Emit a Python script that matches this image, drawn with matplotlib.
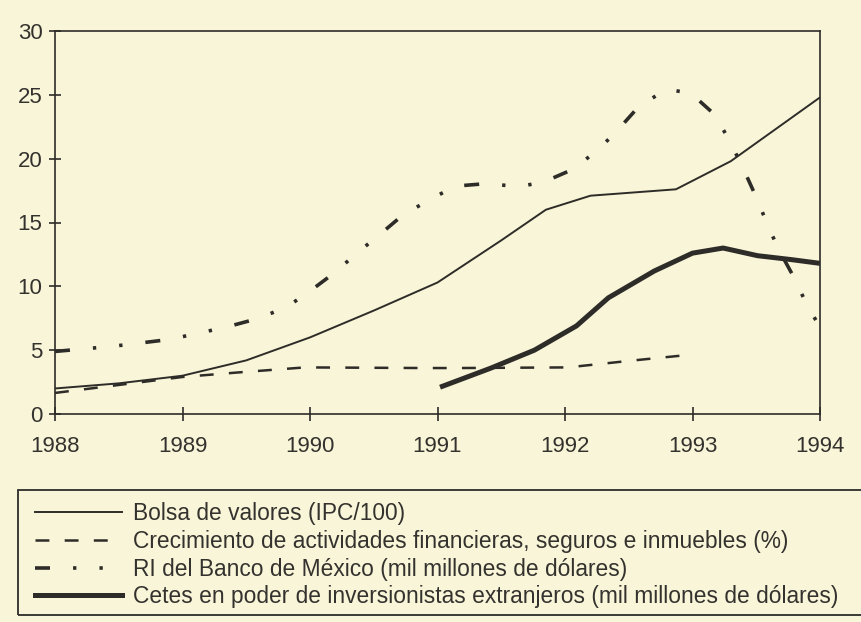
import matplotlib
matplotlib.use('Agg')
import matplotlib.pyplot as plt
from matplotlib.lines import Line2D
from matplotlib.patches import Rectangle

plt.rcParams['font.family'] = ['Liberation Sans', 'DejaVu Sans']
plt.rcParams['lines.scale_dashes'] = False

PAPER = '#f9f5d8'
INK = '#2e2c28'

# data
years = [1988, 1989, 1990, 1991, 1992, 1993, 1994]
y_ticks = [0, 5, 10, 15, 20, 25, 30]

bolsa_x = [1988, 1988.5, 1989, 1989.5, 1990, 1990.5, 1991, 1991.5, 1991.85, 1992.2, 1992.87, 1993.3, 1993.72, 1994]
bolsa_y = [2.0, 2.4, 3.0, 4.2, 6.0, 8.1, 10.3, 13.6, 16.0, 17.1, 17.6, 19.8, 22.8, 24.8]

crec_x = [1988, 1989, 1989.43, 1989.96, 1990.9, 1991.16, 1992.02, 1992.54, 1992.99]
crec_y = [1.65, 2.9, 3.25, 3.65, 3.6, 3.6, 3.65, 4.2, 4.65]

ri_x = [1988, 1988.45, 1988.9, 1989.34, 1989.6, 1989.82, 1989.99, 1990.19, 1990.38, 1990.54,
        1990.73, 1990.96, 1991.14, 1991.39, 1991.64, 1991.84, 1992.07, 1992.27, 1992.41, 1992.58,
        1992.8, 1992.99, 1993.18, 1993.3, 1993.39, 1993.49, 1993.59, 1993.67, 1993.79, 1993.9, 1994]
ri_y = [4.9, 5.3, 5.84, 6.8, 7.5, 8.4, 9.55, 11.05, 12.7, 14.0,
        15.6, 16.9, 17.85, 18.05, 17.8, 18.2, 19.2, 20.8, 22.2, 24.1,
        25.45, 25.1, 23.4, 21.2, 19.4, 17.2, 14.8, 13.0, 10.8, 8.5, 6.8]

cetes_x = [1991.02, 1991.42, 1991.76, 1992.09, 1992.34, 1992.7, 1993.0, 1993.24, 1993.51, 1993.77, 1994]
cetes_y = [2.1, 3.6, 5.0, 6.9, 9.1, 11.2, 12.6, 13.0, 12.4, 12.1, 11.8]

labels = [
    'Bolsa de valores (IPC/100)',
    'Crecimiento de actividades financieras, seguros e inmuebles (%)',
    'RI del Banco de México (mil millones de dólares)',
    'Cetes en poder de inversionistas extranjeros (mil millones de dólares)',
]

styles = [
    dict(lw=1.4, linestyle='-'),
    dict(lw=1.8, dashes=(10, 11)),
    dict(lw=2.6, dashes=(10.8, 16.6, 2.4, 16.6, 2.4, 16.6)),
    dict(lw=3.6, linestyle='-'),
]

W, H = 861, 622
fig = plt.figure(figsize=(W / 100, H / 100), dpi=100, facecolor=PAPER)
ax = fig.add_axes([55 / W, 1 - 414 / H, (820 - 55) / W, (414 - 31) / H])
ax.set_facecolor(PAPER)

series = [(bolsa_x, bolsa_y), (crec_x, crec_y), (ri_x, ri_y), (cetes_x, cetes_y)]
for (xs, ys), st in zip(series, styles):
    ax.plot(xs, ys, color=INK, dash_capstyle='butt', solid_capstyle='butt', clip_on=False, **st)

ax.set_xlim(1988, 1994)
ax.set_ylim(0, 30)
ax.set_xticks(years)
ax.set_xticklabels([str(y) for y in years])
ax.set_yticks(y_ticks)
for s in ax.spines.values():
    s.set_linewidth(1.2)
    s.set_color(INK)
ax.tick_params(axis='x', direction='inout', length=10, width=1.2, pad=11, labelsize=16,
               color=INK, labelcolor='#34322e')
ax.tick_params(axis='y', direction='inout', length=8, width=1.2, pad=5, labelsize=16,
               color=INK, labelcolor='#34322e')

# legend box runs off the right edge like the scan
fig.patches.append(Rectangle((18 / W, 1 - 615 / H), 1.0, (615 - 490) / H, transform=fig.transFigure,
                             fill=False, edgecolor=INK, lw=1.3))
handles = [Line2D([], [], color=INK, dash_capstyle='butt', **st) for st in styles]
fig.legend(handles, labels, loc='upper left', bbox_to_anchor=(35 / W, 1 - 502 / H),
           bbox_transform=fig.transFigure, frameon=False, fontsize=16.4, handlelength=3.8,
           handletextpad=0.5, labelspacing=0.21, borderpad=0, borderaxespad=0,
           labelcolor='#34322e')

fig.savefig('out.png', dpi=100, facecolor=PAPER)
